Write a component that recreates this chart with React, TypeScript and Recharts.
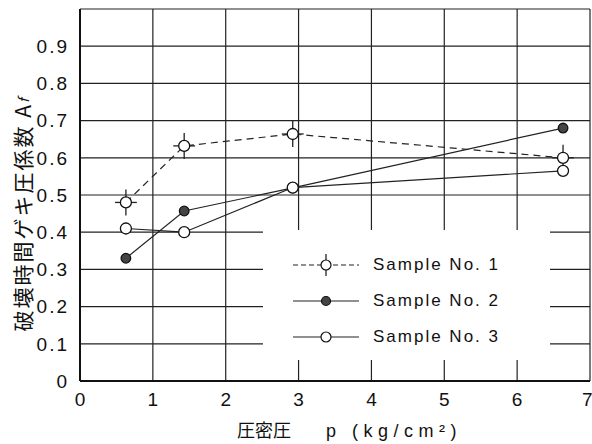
import React from 'react';
import {
  ScatterChart, Scatter, XAxis, YAxis, CartesianGrid, ErrorBar, Legend,
} from 'recharts';

const pressures = [0.63, 1.43, 2.92, 6.63];
const sample1 = [0.48, 0.632, 0.664, 0.6];
const sample2 = [0.33, 0.457, 0.519, 0.68];
const sample3 = [0.41, 0.4, 0.52, 0.565];
const sample1ErrX = [0.15, 0.15, 0.15, 0.15];
const sample1ErrY = [0.035, 0.035, 0.035, 0.035];
const xTicks = [0, 1, 2, 3, 4, 5, 6, 7];
const yTicks = [0, 0.1, 0.2, 0.3, 0.4, 0.5, 0.6, 0.7, 0.8, 0.9];
const seriesNames = ['Sample No. 1', 'Sample No. 2', 'Sample No. 3'];
const xLabelMain = '圧密圧';
const xLabelUnit = 'p (kg/cm²)';
const yLabelMain = '破壊時間ゲキ圧係数';

const d1 = pressures.map((x, i) => ({ x, y: sample1[i], ex: sample1ErrX[i], ey: sample1ErrY[i] }));
const d2 = pressures.map((x, i) => ({ x, y: sample2[i] }));
const d3 = pressures.map((x, i) => ({ x, y: sample3[i] }));

const FONT = '"Liberation Sans", Arial, sans-serif';
const CJK = '"Noto Sans CJK JP", "Liberation Sans", sans-serif';

const openDot = (r: number) => (p: any) => (
  <circle cx={p.cx} cy={p.cy} r={r} fill="#fff" stroke="#111" strokeWidth={1.3} />
);
const filledDot = (p: any) => (
  <circle cx={p.cx} cy={p.cy} r={4.8} fill="#444" stroke="#111" strokeWidth={1.3} />
);

const LegendIcon = ({ kind }: { kind: number }) => (
  <svg width={66} height={24} style={{ display: 'block' }}>
    <line x1={0} y1={12} x2={66} y2={12} stroke="#222" strokeWidth={1.2}
      strokeDasharray={kind === 0 ? '5 3' : undefined} />
    {kind === 0 && <line x1={33} y1={1} x2={33} y2={23} stroke="#222" strokeWidth={1.3} />}
    <circle cx={33} cy={12} r={kind === 1 ? 4.5 : 5} fill={kind === 1 ? '#444' : '#fff'} stroke="#111" strokeWidth={1.2} />
  </svg>
);

const renderLegend = () => (
  <div style={{ position: 'relative', width: 287, height: 130, background: '#fff' }}>
    {seriesNames.map((n, i) => (
      <div key={n} style={{ position: 'absolute', left: 30, top: 23 + i * 36, display: 'flex', alignItems: 'center' }}>
        <LegendIcon kind={i} />
        <span style={{ marginLeft: 14, fontFamily: FONT, fontSize: 17, letterSpacing: 2, color: '#111' }}>{n}</span>
      </div>
    ))}
  </div>
);

const YLabel = (props: any) => {
  const vb = props.viewBox || { x: 0, y: 0, width: 0, height: 0 };
  const cx = 22;
  const cy = vb.y + vb.height / 2 + 19;
  return (
    <text x={cx} y={cy} transform={`rotate(-90, ${cx}, ${cy})`} textAnchor="middle" dominantBaseline="central"
      fontFamily={CJK} fontSize={21} fill="#111" letterSpacing={2}>
      {yLabelMain}  A<tspan fontSize={14} fontStyle="italic" dy={1}>f</tspan>
    </text>
  );
};

const XLabel = (props: any) => {
  const vb = props.viewBox || { x: 0, y: 0, width: 0, height: 0 };
  const cx = vb.x + vb.width / 2;
  const y = 437;
  return (
    <text y={y} fontFamily={CJK} fontSize={18} fill="#111">
      <tspan x={cx - 98}>{xLabelMain}</tspan>
      <tspan x={cx - 9} fontFamily={FONT} fontSize={18} letterSpacing={5.5}>{xLabelUnit}</tspan>
    </text>
  );
};

export default function App() {
  return (
    <div style={{ position: 'absolute', left: 0, top: 0, background: '#fff' }}>
      <ScatterChart width={592} height={444} margin={{ top: 9, right: 2, bottom: 0, left: 0 }}>
        <CartesianGrid stroke="#222" strokeWidth={1.2} />
        <XAxis type="number" dataKey="x" domain={[0, 7]} ticks={xTicks} height={63}
          tickLine={false} axisLine={{ stroke: '#111', strokeWidth: 2 }}
          tick={{ fontFamily: FONT, fontSize: 19, fill: '#111' }} tickMargin={6}
          label={<XLabel />} />
        <XAxis xAxisId="top" orientation="top" type="number" domain={[0, 7]} height={0}
          tick={false} tickLine={false} axisLine={{ stroke: '#111', strokeWidth: 2 }} />
        <YAxis type="number" dataKey="y" domain={[0, 1]} ticks={yTicks} width={80}
          tickLine={false} axisLine={{ stroke: '#111', strokeWidth: 2 }}
          tickFormatter={(v: number) => (v === 0 ? '0' : v.toFixed(1))}
          tick={{ fontFamily: FONT, fontSize: 19, fill: '#111', letterSpacing: 2 }} tickMargin={5}
          label={<YLabel />} />
        <YAxis yAxisId="right" orientation="right" type="number" domain={[0, 1]} width={0}
          tick={false} tickLine={false} axisLine={{ stroke: '#111', strokeWidth: 2 }} />
        <Legend verticalAlign="middle" layout="horizontal" content={renderLegend}
          wrapperStyle={{ position: 'absolute', left: 263, top: 230, width: 287, height: 130, margin: 0 }} />
        <Scatter name={seriesNames[0]} data={d1} isAnimationActive={false}
          line={{ stroke: '#222', strokeWidth: 1.2, strokeDasharray: '7 5' }} shape={openDot(5.5)}>
          <ErrorBar dataKey="ex" direction="x" width={0} stroke="#222" strokeWidth={1.3} />
          <ErrorBar dataKey="ey" direction="y" width={0} stroke="#222" strokeWidth={1.3} />
        </Scatter>
        <Scatter name={seriesNames[1]} data={d2} isAnimationActive={false}
          line={{ stroke: '#222', strokeWidth: 1.2 }} shape={filledDot} />
        <Scatter name={seriesNames[2]} data={d3} isAnimationActive={false}
          line={{ stroke: '#222', strokeWidth: 1.2 }} shape={openDot(5.5)} />
      </ScatterChart>
    </div>
  );
}
